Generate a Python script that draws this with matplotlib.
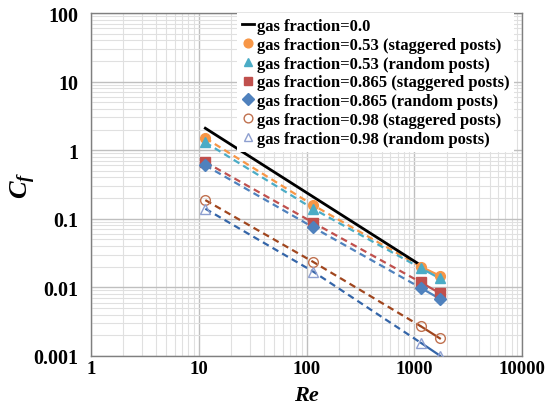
import numpy as np
import matplotlib.pyplot as plt
from matplotlib.ticker import FixedLocator, LogLocator, NullFormatter

plt.rcParams['font.family'] = ['Liberation Serif', 'DejaVu Serif']
plt.rcParams['mathtext.fontset'] = 'custom'
plt.rcParams['mathtext.it'] = 'Liberation Serif:italic:bold'

# Reynolds numbers of the measurements
re = [11.5, 115, 1150, 1725]
re_smooth = [11.5, 1150]

cf_smooth = [2.09, 0.0209]
cf_053_stag = [1.5, 0.158, 0.020, 0.0147]
cf_053_rand = [1.3, 0.14, 0.019, 0.0135]
cf_0865_stag = [0.67, 0.088, 0.0118, 0.0082]
cf_0865_rand = [0.6, 0.075, 0.0098, 0.0068]
cf_098_stag = [0.187, 0.0235, 0.0027, 0.0018]
cf_098_rand = [0.14, 0.017, 0.00155, 0.00101]

series = [
    ('gas fraction=0.53 (staggered posts)', cf_053_stag, 'o', '#f79646', '#f79646', '#f79646'),
    ('gas fraction=0.53 (random posts)', cf_053_rand, '^', '#4bacc6', '#4bacc6', '#4bacc6'),
    ('gas fraction=0.865 (staggered posts)', cf_0865_stag, 's', '#c0504d', '#c0504d', '#c0504d'),
    ('gas fraction=0.865 (random posts)', cf_0865_rand, 'D', '#4f81bd', '#4f81bd', '#4f81bd'),
    ('gas fraction=0.98 (staggered posts)', cf_098_stag, 'o', 'none', '#c0714f', '#a0461e'),
    ('gas fraction=0.98 (random posts)', cf_098_rand, '^', 'none', '#8e9fd0', '#3465a8'),
]

fig = plt.figure(figsize=(5.45, 4.14), dpi=100)
ax = fig.add_axes([0.167, 0.138, 0.791, 0.828])
ax.set_xscale('log')
ax.set_yscale('log')
ax.set_xlim(1, 10000)
ax.set_ylim(0.001, 100)

ax.plot(re_smooth, cf_smooth, color='black', lw=2, label='gas fraction=0.0', zorder=4)

for label, cf, mk, fc, ec, lc in series:
    ax.plot(re[:3], cf[:3], color=lc, lw=1.6, ls=(0, (3, 2)), zorder=3)
    ax.plot(re[2:], cf[2:], color=lc, lw=1.6, zorder=3)
    ms = 6.5 if mk == 'D' else 7
    ax.plot(re, cf, ls='none', marker=mk, ms=ms, mfc=fc, mec=ec, mew=1.0,
            label=label, zorder=5)

ax.xaxis.set_major_locator(FixedLocator([1, 10, 100, 1000, 10000]))
ax.yaxis.set_major_locator(FixedLocator([0.001, 0.01, 0.1, 1, 10, 100]))
ax.xaxis.set_minor_locator(LogLocator(base=10, subs=np.arange(2, 10)))
ax.yaxis.set_minor_locator(LogLocator(base=10, subs=np.arange(2, 10)))
ax.xaxis.set_minor_formatter(NullFormatter())
ax.yaxis.set_minor_formatter(NullFormatter())
ax.set_xticklabels(['1', '10', '100', '1000', '10000'])
ax.set_yticklabels(['0.001', '0.01', '0.1', '1', '10', '100'])
ax.tick_params(which='both', length=0)
ax.tick_params(axis='x', pad=3, labelsize=13.5)
ax.tick_params(axis='y', pad=9, labelsize=14.5)
for t in ax.get_xticklabels() + ax.get_yticklabels():
    t.set_fontweight('bold')

ax.grid(True, which='major', color='#bfbfbf', lw=1.0)
ax.grid(True, which='minor', color='#e0e0e0', lw=0.8)
ax.set_axisbelow(True)
for s in ax.spines.values():
    s.set_color('#7f7f7f')
    s.set_linewidth(1.0)

ax.set_xlabel('Re', fontsize=16, fontweight='bold', style='italic', labelpad=6)
ax.set_ylabel(r'$C_f$', fontsize=19)
ax.yaxis.set_label_coords(-0.122, 0.5)

leg = ax.legend(loc='upper right', bbox_to_anchor=(0.99, 1.01), frameon=True,
                prop={'weight': 'bold', 'size': 12}, handlelength=0.75,
                handletextpad=0.15, labelspacing=0.17, borderaxespad=0.2,
                borderpad=0.3, markerscale=0.9)
leg.get_frame().set_facecolor('white')
leg.get_frame().set_edgecolor('none')
leg.get_frame().set_alpha(1.0)
leg.get_frame().set_boxstyle('square', pad=0)

fig.savefig('out.png', dpi=100)
